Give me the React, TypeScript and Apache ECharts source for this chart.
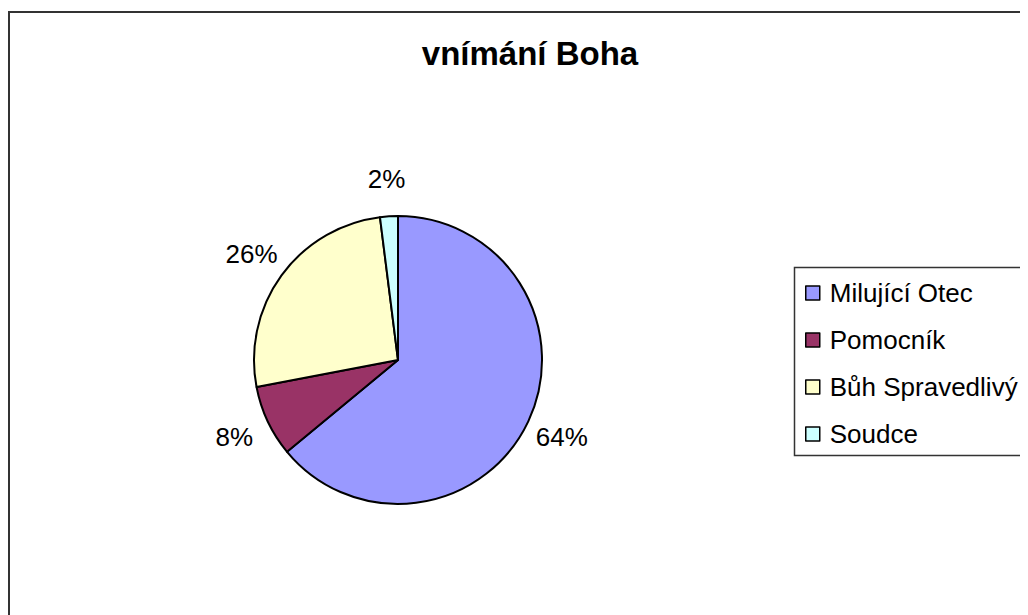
import React, { useEffect, useRef } from "react";
import * as echarts from "echarts";

const titleText = "vnímání Boha";
const categories = ["Milující Otec", "Pomocník", "Bůh Spravedlivý", "Soudce"];
const values = [64, 8, 26, 2];
const colors = ["#9999FF", "#993366", "#FFFFCC", "#CCFFFF"];

const FONT = "'Liberation Sans', Arial, sans-serif";

export default function App() {
  const ref = useRef<HTMLDivElement>(null);
  useEffect(() => {
    if (!ref.current) return;
    const chart = echarts.init(ref.current, undefined, { renderer: "svg" });
    const data = categories.map((name, i) => ({
      name,
      value: values[i],
      itemStyle: { color: colors[i] },
    }));
    const total = values.reduce((a, b) => a + b, 0);
    chart.setOption({
      animation: false,
      backgroundColor: "#ffffff",
      title: {
        text: titleText,
        left: 517,
        top: 40,
        textAlign: "center",
        textVerticalAlign: "middle",
        textStyle: { fontFamily: FONT, fontSize: 33, fontWeight: "bold", color: "#000" },
      },
      graphic: [
        {
          type: "rect",
          shape: { x: 1, y: 4, width: 1100, height: 700 },
          style: { fill: "none", stroke: "#333", lineWidth: 2 },
          silent: true,
        },
        {
          type: "rect",
          shape: { x: 786.5, y: 259.5, width: 400, height: 188 },
          style: { fill: "none", stroke: "#333", lineWidth: 1.5 },
          silent: true,
        },
      ],
      legend: {
        orient: "vertical",
        left: 792,
        top: 267,
        itemWidth: 14,
        itemHeight: 14,
        itemGap: 21,
        icon: "rect",
        data: categories,
        itemStyle: { borderColor: "#000", borderWidth: 1.5 },
        textStyle: {
          fontFamily: FONT,
          fontSize: 26,
          lineHeight: 26,
          color: "#000",
          padding: [0, 0, 0, 5],
        },
      },
      series: [
        {
          type: "pie",
          center: [390, 352],
          radius: [0, 144],
          startAngle: 90,
          clockwise: true,
          avoidLabelOverlap: false,
          data,
          label: { show: false },
          labelLine: { show: false },
          itemStyle: { borderColor: "#000", borderWidth: 2 },
          emphasis: { disabled: true },
        },
        {
          type: "pie",
          center: [390, 352],
          radius: [158, 198],
          startAngle: 90,
          clockwise: true,
          silent: true,
          avoidLabelOverlap: false,
          data: data.map((d) => ({ name: d.name, value: d.value })),
          itemStyle: { color: "rgba(0,0,0,0)", borderWidth: 0 },
          label: {
            show: true,
            position: "inside",
            formatter: (p: any) => Math.round((p.value / total) * 100) + "%",
            fontFamily: FONT,
            fontSize: 26,
            color: "#000",
          },
          labelLine: { show: false },
          emphasis: { disabled: true },
        },
      ],
    });
    return () => chart.dispose();
  }, []);
  return <div ref={ref} style={{ width: 1020, height: 607 }} />;
}
